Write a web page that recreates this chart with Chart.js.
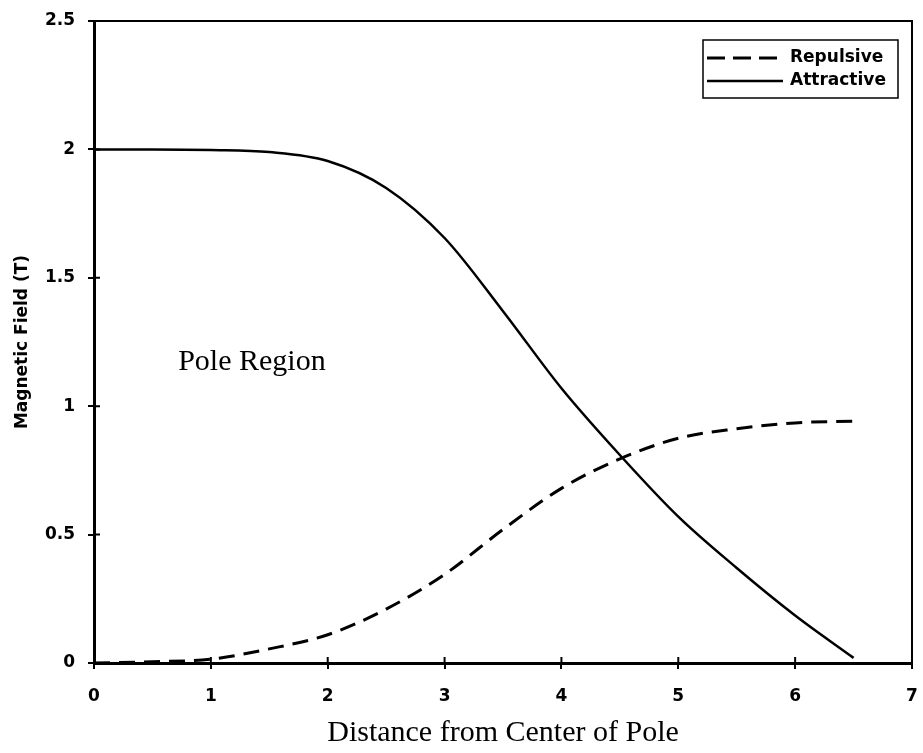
<!DOCTYPE html>
<html>
<head>
<meta charset="utf-8">
<title>Magnetic Field vs Distance from Center of Pole</title>
<script src="https://cdn.jsdelivr.net/npm/chart.js@4/dist/chart.umd.min.js"></script>
<style>
  html, body { margin: 0; padding: 0; background: #fff; }
  #wrap { width: 923px; height: 753px; position: relative; }
</style>
</head>
<body>
<div id="wrap"><canvas id="chart"></canvas></div>
<script>
// distance from center of pole
const distance = [0, 0.5, 1, 1.5, 2, 2.5, 3, 3.5, 4, 4.5, 5, 5.5, 6, 6.5];
const repulsive = [0, 0.005, 0.015, 0.055, 0.11, 0.21, 0.345, 0.52, 0.68, 0.795, 0.875, 0.912, 0.935, 0.942];
const attractive = [2.0, 2.0, 1.998, 1.99, 1.955, 1.85, 1.655, 1.37, 1.07, 0.81, 0.57, 0.37, 0.185, 0.02];
const xTicks = [0, 1, 2, 3, 4, 5, 6, 7];
const yTicks = [0, 0.5, 1, 1.5, 2, 2.5];
const regionLabel = { text: 'Pole Region', x: 0.72, y: 1.14 };

const tickFont = { family: '"DejaVu Sans", sans-serif', size: 17, weight: 'bold' };
const serif = '"Liberation Serif", "Times New Roman", serif';

// frame, inner tick marks, text label and boxed legend
const extras = {
  id: 'extras',
  afterDraw(chart) {
    const { ctx, chartArea: a, scales: { x, y } } = chart;
    ctx.save();
    ctx.strokeStyle = '#000';
    ctx.lineWidth = 2;
    ctx.beginPath();
    ctx.moveTo(a.left, a.top); ctx.lineTo(a.right, a.top); ctx.lineTo(a.right, a.bottom);
    ctx.stroke();
    ctx.beginPath();
    x.ticks.forEach(t => { const px = x.getPixelForValue(t.value); ctx.moveTo(px, a.bottom); ctx.lineTo(px, a.bottom - 6); });
    y.ticks.forEach(t => { const py = y.getPixelForValue(t.value); ctx.moveTo(a.left, py); ctx.lineTo(a.left + 6, py); });
    ctx.stroke();

    ctx.fillStyle = '#000';
    ctx.font = '30px ' + serif;
    ctx.textBaseline = 'alphabetic';
    ctx.textAlign = 'left';
    ctx.fillText(regionLabel.text, x.getPixelForValue(regionLabel.x), y.getPixelForValue(regionLabel.y));

    // legend box
    const bx = 703, by = 40, bw = 195, bh = 58;
    ctx.lineWidth = 1.5;
    ctx.strokeRect(bx, by, bw, bh);
    ctx.font = 'bold 17px "DejaVu Sans", sans-serif';
    ctx.textBaseline = 'middle';
    chart.data.datasets.forEach((ds, i) => {
      const ry = by + 18 + i * 23;
      ctx.beginPath();
      ctx.lineWidth = ds.borderWidth;
      ctx.setLineDash(ds.borderDash && ds.borderDash.length ? [18, 8] : []);
      ctx.moveTo(bx + 4, ry); ctx.lineTo(bx + 80, ry);
      ctx.stroke();
      ctx.setLineDash([]);
      ctx.fillText(ds.label, bx + 87, ry);
    });
    ctx.restore();
  }
};

new Chart(document.getElementById('chart'), {
  type: 'line',
  data: {
    labels: distance,
    datasets: [
      { label: 'Repulsive', data: distance.map((d, i) => ({ x: d, y: repulsive[i] })), borderColor: '#000', borderWidth: 3, borderDash: [16, 9], pointRadius: 0, cubicInterpolationMode: 'monotone', fill: false },
      { label: 'Attractive', data: distance.map((d, i) => ({ x: d, y: attractive[i] })), borderColor: '#000', borderWidth: 2.5, pointRadius: 0, cubicInterpolationMode: 'monotone', fill: false }
    ]
  },
  options: {
    responsive: true,
    maintainAspectRatio: false,
    animation: false,
    layout: { padding: { left: 0, right: 11, top: 21, bottom: 0 } },
    scales: {
      x: {
        type: 'linear', min: 0, max: 7,
        afterBuildTicks: s => { s.ticks = xTicks.map(v => ({ value: v })); },
        afterFit: s => { s.height = 90; s.paddingLeft = 0; s.paddingRight = 0; },
        border: { color: '#000', width: 3 },
        grid: { drawOnChartArea: false, color: '#000', lineWidth: 2, tickLength: 6 },
        ticks: { color: '#000', font: tickFont, padding: 17, maxRotation: 0, callback: v => String(v) },
        title: { display: true, text: 'Distance from Center of Pole', color: '#000', font: { family: serif, size: 30 }, padding: { top: 0, bottom: 2 } }
      },
      y: {
        min: 0, max: 2.5,
        afterBuildTicks: s => { s.ticks = yTicks.map(v => ({ value: v })); },
        afterFit: s => { s.width = 94; s.paddingTop = 0; s.paddingBottom = 0; },
        border: { color: '#000', width: 3 },
        grid: { drawOnChartArea: false, color: '#000', lineWidth: 2, tickLength: 6 },
        ticks: { color: '#000', font: tickFont, padding: 13, callback: v => String(v) },
        title: { display: true, text: 'Magnetic Field (T)', color: '#000', font: { family: '"DejaVu Sans", sans-serif', size: 17, weight: 'bold' }, padding: { top: 12, bottom: 0 } }
      }
    },
    plugins: { legend: { display: false }, tooltip: { enabled: false } }
  },
  plugins: [extras]
});
</script>
</body>
</html>
